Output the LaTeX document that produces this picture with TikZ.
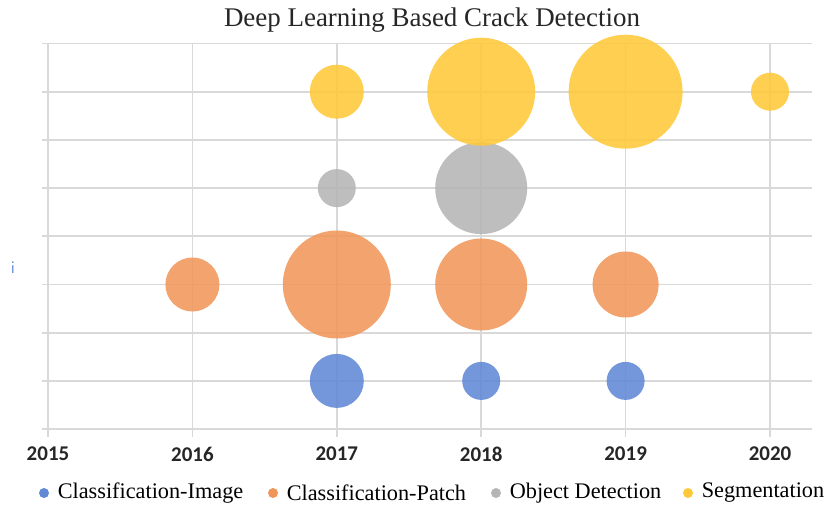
\documentclass[tikz,border=0pt]{standalone}
\usepackage{fontspec}
\setmainfont{Liberation Serif}
\newfontfamily\yearfont{Carlito}
\usetikzlibrary{positioning}
\definecolor{ciblue}{HTML}{6189D6}
\definecolor{cporange}{HTML}{F0965A}
\definecolor{odgray}{HTML}{B5B5B5}
\definecolor{sgyellow}{HTML}{FFC83A}
\definecolor{gridgray}{HTML}{D9D9D9}

\begin{document}
\begin{tikzpicture}[x=0.03cm,y=-0.03cm,
  gridline/.style={draw=gridgray,line width=1.4pt},
  bubble/.style={circle,inner sep=0pt,fill opacity=0.88,minimum size={#1*0.06cm}},
  legdot/.style={circle,inner sep=0pt,minimum size=0.3cm,fill=#1},
  legtext/.style={inner sep=0pt,font=\fontsize{19}{22}\selectfont}]
\useasboundingbox (0,0) rectangle (824,507);

% grid and axes
\foreach \k in {0,...,8}
  \draw[gridline] (42,43.5+\k*48.2) -- (812,43.5+\k*48.2);
\foreach \i in {0,...,5}{
  \pgfmathtruncatemacro{\yr}{2015+\i}
  \draw[gridline] (48+\i*144.4,43.5) -- (48+\i*144.4,437);
  \node[font=\yearfont\bfseries\fontsize{17.9}{20}\selectfont,text=black!85] (y\yr) at (48+\i*144.4,454) {\yr};
}

\node[font=\fontsize{23}{27}\selectfont,text=black!85] (title) at (432,20) {Deep Learning Based Crack Detection};
\node[text=ciblue,font=\sffamily\fontsize{15}{16}\selectfont] (ylab) at (13,268) {i};

% bubbles: radius in px
\node[bubble=27,fill=ciblue] (ci2017) at (336.8,380.9) {};
\node[bubble=19,fill=ciblue] (ci2018) at (481.2,380.9) {};
\node[bubble=19,fill=ciblue] (ci2019) at (625.6,380.9) {};

\node[bubble=27,fill=cporange] (cp2016) at (192.4,284.5) {};
\node[bubble=54,fill=cporange] (cp2017) at (336.8,284.5) {};
\node[bubble=46,fill=cporange] (cp2018) at (481.2,284.5) {};
\node[bubble=33,fill=cporange] (cp2019) at (625.6,284.5) {};

\node[bubble=19,fill=odgray] (od2017) at (336.8,188.1) {};
\node[bubble=46,fill=odgray] (od2018) at (481.2,188.1) {};

\node[bubble=27,fill=sgyellow] (sg2017) at (336.8,91.7) {};
\node[bubble=54,fill=sgyellow] (sg2018) at (481.2,91.7) {};
\node[bubble=57,fill=sgyellow] (sg2019) at (625.6,91.7) {};
\node[bubble=19,fill=sgyellow] (sg2020) at (770,91.7) {};

% legend
\node[legdot=ciblue] (dci) at (44,493) {};
\node[legtext,right=0.25cm of dci] (lci) {Classification-Image};
\node[legdot=cporange] (dcp) at (273,493) {};
\node[legtext,right=0.25cm of dcp] (lcp) {Classification-Patch};
\node[legdot=odgray] (dod) at (496,493) {};
\node[legtext,right=0.25cm of dod] (lod) {Object Detection};
\node[legdot=sgyellow] (dsg) at (688,493) {};
\node[legtext,right=0.25cm of dsg] (lsg) {Segmentation};
\end{tikzpicture}
\end{document}
